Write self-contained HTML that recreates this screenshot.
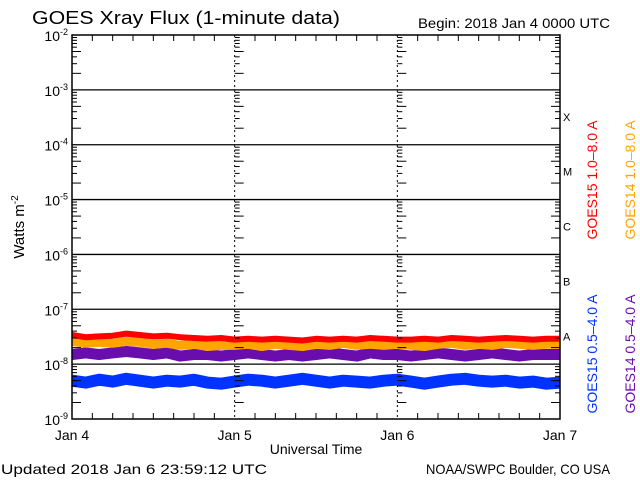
<!DOCTYPE html>
<html><head><meta charset="utf-8"><style>
body{margin:0;background:#fff;width:640px;height:480px;overflow:hidden}
text{font-family:"Liberation Sans",sans-serif}
</style></head><body>
<svg id="c" width="640" height="480" xmlns="http://www.w3.org/2000/svg">
<text x="32" y="24" font-size="18" textLength="308" lengthAdjust="spacingAndGlyphs">GOES Xray Flux (1-minute data)</text>
<text x="418" y="28" font-size="14" textLength="192" lengthAdjust="spacingAndGlyphs">Begin:  2018 Jan 4 0000 UTC</text>
<text x="1" y="474" font-size="14" textLength="266" lengthAdjust="spacingAndGlyphs">Updated 2018 Jan  6 23:59:12 UTC</text>
<text x="426" y="474" font-size="14" textLength="184" lengthAdjust="spacingAndGlyphs">NOAA/SWPC Boulder, CO USA</text>
<text x="316" y="454" font-size="14" text-anchor="middle">Universal Time</text>
<text transform="translate(24,227) rotate(-90)" font-size="15" text-anchor="middle">Watts m<tspan dy="-6" font-size="10">-2</tspan></text>
<text transform="translate(597,180) rotate(-90)" font-size="14" fill="#ff0000" text-anchor="middle">GOES15 1.0–8.0 A</text>
<text transform="translate(635,180) rotate(-90)" font-size="14" fill="#ffa500" text-anchor="middle">GOES14 1.0–8.0 A</text>
<text transform="translate(597,354) rotate(-90)" font-size="14" fill="#0033ff" text-anchor="middle">GOES15 0.5–4.0 A</text>
<text transform="translate(635,354) rotate(-90)" font-size="14" fill="#6a0dad" text-anchor="middle">GOES14 0.5–4.0 A</text>
<g id="grid"></g><g id="series"></g><g id="axes"></g>
</svg>
<script>
const xLabels=["Jan 4","Jan 5","Jan 6","Jan 7"];
const yExps=[-2,-3,-4,-5,-6,-7,-8,-9];
const classes=["X","M","C","B","A"];
const g15long=[3.4e-8,3.1e-8,3.2e-8,3.3e-8,3.6e-8,3.4e-8,3.2e-8,3.3e-8,3.1e-8,3.0e-8,2.9e-8,3.0e-8,2.8e-8,2.9e-8,2.8e-8,2.9e-8,2.8e-8,2.7e-8,2.9e-8,2.8e-8,2.9e-8,2.8e-8,3.0e-8,2.9e-8,2.8e-8,2.8e-8,2.9e-8,2.8e-8,3.0e-8,2.9e-8,2.8e-8,2.9e-8,3.0e-8,2.9e-8,2.8e-8,2.9e-8,2.9e-8];
const g14long=[2.6e-8,2.4e-8,2.5e-8,2.4e-8,2.6e-8,2.5e-8,2.3e-8,2.4e-8,2.2e-8,2.3e-8,2.1e-8,2.2e-8,2.2e-8,2.3e-8,2.1e-8,2.3e-8,2.2e-8,2.1e-8,2.3e-8,2.2e-8,2.4e-8,2.2e-8,2.3e-8,2.2e-8,2.3e-8,2.2e-8,2.1e-8,2.3e-8,2.4e-8,2.2e-8,2.3e-8,2.2e-8,2.4e-8,2.3e-8,2.2e-8,2.3e-8,2.3e-8];
const g14short=[1.5e-8,1.6e-8,1.5e-8,1.6e-8,1.7e-8,1.6e-8,1.5e-8,1.6e-8,1.4e-8,1.5e-8,1.5e-8,1.4e-8,1.5e-8,1.6e-8,1.5e-8,1.4e-8,1.5e-8,1.4e-8,1.5e-8,1.6e-8,1.5e-8,1.4e-8,1.6e-8,1.5e-8,1.5e-8,1.4e-8,1.5e-8,1.6e-8,1.5e-8,1.4e-8,1.5e-8,1.6e-8,1.5e-8,1.4e-8,1.5e-8,1.5e-8,1.5e-8];
const g15short=[5.0e-9,4.6e-9,5.2e-9,4.8e-9,5.4e-9,5.0e-9,4.6e-9,5.0e-9,4.8e-9,5.2e-9,4.6e-9,4.4e-9,4.8e-9,5.2e-9,5.0e-9,4.6e-9,5.0e-9,5.4e-9,5.0e-9,4.6e-9,5.0e-9,4.8e-9,4.6e-9,5.0e-9,5.2e-9,4.8e-9,4.4e-9,4.8e-9,5.2e-9,5.4e-9,5.0e-9,4.8e-9,5.0e-9,4.6e-9,4.8e-9,4.4e-9,4.6e-9];
const L=72,R=560,T=35,B=419;
const xs=t=>L+(R-L)*t/3;
const ys=v=>T+(-2-Math.log10(v))*(B-T)/7;
const NS="http://www.w3.org/2000/svg";
function mk(p,tag,a){const e=document.createElementNS(NS,tag);for(const k in a)e.setAttribute(k,a[k]);p.appendChild(e);return e;}
const grid=document.getElementById('grid'),axes=document.getElementById('axes'),ser=document.getElementById('series');
yExps.forEach(ex=>{const y=ys(Math.pow(10,ex));
 if(ex<-2&&ex>-9){const l=mk(grid,'line',{x1:L,x2:R,y1:y,y2:y,stroke:'#000','stroke-width':1.3});
 
 }
 const t=mk(axes,'text',{x:L-4,y:y+6,'font-size':14,'text-anchor':'end'});
 
 
 t.innerHTML='10<tspan dy="-6" font-size="9">'+ex+'</tspan>';
 if(ex>-9)for(let m=2;m<=9;m++){const yy=ys(m*Math.pow(10,ex-1));
  [L,xs(1),xs(2),R].forEach((x,i)=>{const len=(m==2||m==5)?9:5;
   if(i==3)mk(axes,'line',{x1:x,x2:x-len,y1:yy,y2:yy,stroke:'#000'});
   else mk(axes,'line',{x1:x,x2:x+len,y1:yy,y2:yy,stroke:'#000'});});}
});
classes.forEach((c,i)=>{const t=mk(axes,'text',{x:R+3,y:ys(Math.pow(10,-3-i))+31,'font-size':11,'font-family':'Liberation Serif'});
 
 
 t.textContent=c;});
xLabels.forEach((s,i)=>{const x=xs(i);
 const t=mk(axes,'text',{x:x,y:440,'font-size':14,'text-anchor':'middle'});
 
 
 t.textContent=s;
 if(i>0&&i<3){const l=mk(grid,'line',{x1:x,x2:x,y1:T,y2:B,stroke:'#000','stroke-dasharray':'2 3'});
 
 }});
for(let h=1;h<24;h++){if(h%8==0)continue;const x=xs(h/8);
 mk(axes,'line',{x1:x,x2:x,y1:B,y2:B-6,stroke:'#000'});mk(axes,'line',{x1:x,x2:x,y1:T,y2:T+6,stroke:'#000'});}
const fr=mk(axes,'rect',{x:L,y:T,width:R-L,height:B-T,fill:'none',stroke:'#000','stroke-width':1.5});


function draw(arr,color,w,name){const pts=arr.map((v,i)=>xs(3*i/(arr.length-1)).toFixed(1)+','+ys(v).toFixed(1)).join(' ');
 const p=mk(ser,'polyline',{points:pts,fill:'none',stroke:color,'stroke-width':w,'stroke-linejoin':'round'});
 
 }
draw(g15short,'#0033ff',12,'series-goes15-short');
draw(g14short,'#6a0dad',11,'series-goes14-short');
draw(g14long,'#ffa500',9,'series-goes14-long');
draw(g15long,'#ff0000',6,'series-goes15-long');
</script>
</body></html>
